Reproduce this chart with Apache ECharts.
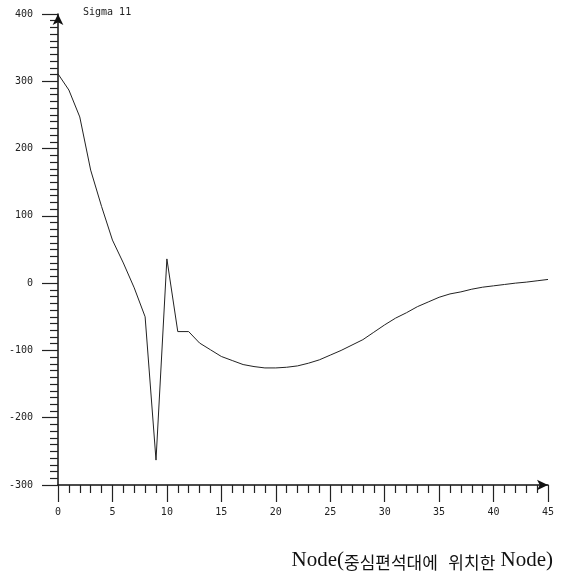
<!DOCTYPE html>
<html>
<head>
<meta charset="utf-8">
<script src="https://cdn.jsdelivr.net/npm/echarts@6/dist/echarts.min.js"></script>
<style>
  html, body { margin: 0; padding: 0; background: #fff; }
  #chart { width: 563px; height: 576px; }
</style>
</head>
<body>
<div id="chart"></div>
<script>
// Node numbers along the central segregation band
const nodes = [0, 1, 2, 3, 4, 5, 6, 7, 8, 9, 10, 11, 12, 13, 14, 15, 16, 17, 18, 19, 20, 21, 22,
  23, 24, 25, 26, 27, 28, 29, 30, 31, 32, 33, 34, 35, 36, 37, 38, 39, 40, 41, 42, 43, 44, 45];
// Sigma 11 values
const sigma11 = [311, 287, 247, 168, 114, 64, 30, -7, -50, -263, 36, -72, -72, -89, -99, -109,
  -115, -121, -124, -126, -126, -125, -123, -119, -114, -107, -100, -92, -84, -73, -62, -52,
  -44, -35, -28, -21, -16, -13, -9, -6, -4, -2, 0, 1.5, 3.5, 5.5];

const titleText = 'Sigma 11';
// caption pieces: latin / hangul / latin
const captionParts = ['Node(', '중심편석대에', '  ', '위치한', ' Node)'];

const pts = nodes.map((n, i) => [n, sigma11[i]]);

const monoFont = 'DejaVu Sans Mono';

const myChart = echarts.init(document.getElementById('chart'));
myChart.setOption({
  backgroundColor: '#fff',
  animation: false,
  grid: { left: 58, right: 15, top: 14, bottom: 91 },
  graphic: [
    {
      type: 'text', left: 83, top: 7,
      style: { text: titleText, font: '10px ' + monoFont, fill: '#222' }
    },
    {
      type: 'text', right: 10, top: 550,
      style: {
        text: '{a|' + captionParts[0] + '}{k|' + captionParts[1] + '}{a|' + captionParts[2] + '}{k|' +
          captionParts[3] + '}{a|' + captionParts[4] + '}',
        rich: {
          a: { fontFamily: 'Liberation Serif', fontSize: 21, fill: '#111', verticalAlign: 'bottom' },
          k: { fontFamily: 'Noto Sans CJK KR', fontSize: 17, fill: '#111', verticalAlign: 'bottom' }
        }
      }
    }
  ],
  xAxis: {
    type: 'value',
    min: 0, max: 45, interval: 5,
    axisLine: {
      onZero: false,
      symbol: ['none', 'arrow'], symbolSize: [8, 11],
      lineStyle: { color: '#111', width: 1.5 }
    },
    axisTick: { show: true, inside: false, length: 17, lineStyle: { color: '#222', width: 1.2 } },
    minorTick: { show: true, splitNumber: 5, length: 8, lineStyle: { color: '#222', width: 1.2 } },
    splitLine: { show: false },
    axisLabel: { margin: 22, color: '#222', fontFamily: monoFont, fontSize: 10 }
  },
  yAxis: {
    type: 'value',
    min: -300, max: 400, interval: 100,
    axisLine: {
      show: true, onZero: false,
      symbol: ['none', 'arrow'], symbolSize: [8, 11],
      lineStyle: { color: '#111', width: 1.5 }
    },
    axisTick: { show: true, inside: false, length: 16, lineStyle: { color: '#222', width: 1.2 } },
    minorTick: { show: true, splitNumber: 10, length: 8, lineStyle: { color: '#222', width: 1.2 } },
    splitLine: { show: false },
    axisLabel: { margin: 25, color: '#222', fontFamily: monoFont, fontSize: 10 }
  },
  series: [{
    type: 'line',
    data: pts,
    showSymbol: false,
    lineStyle: { color: '#222', width: 1 }
  }]
});
</script>
</body>
</html>
